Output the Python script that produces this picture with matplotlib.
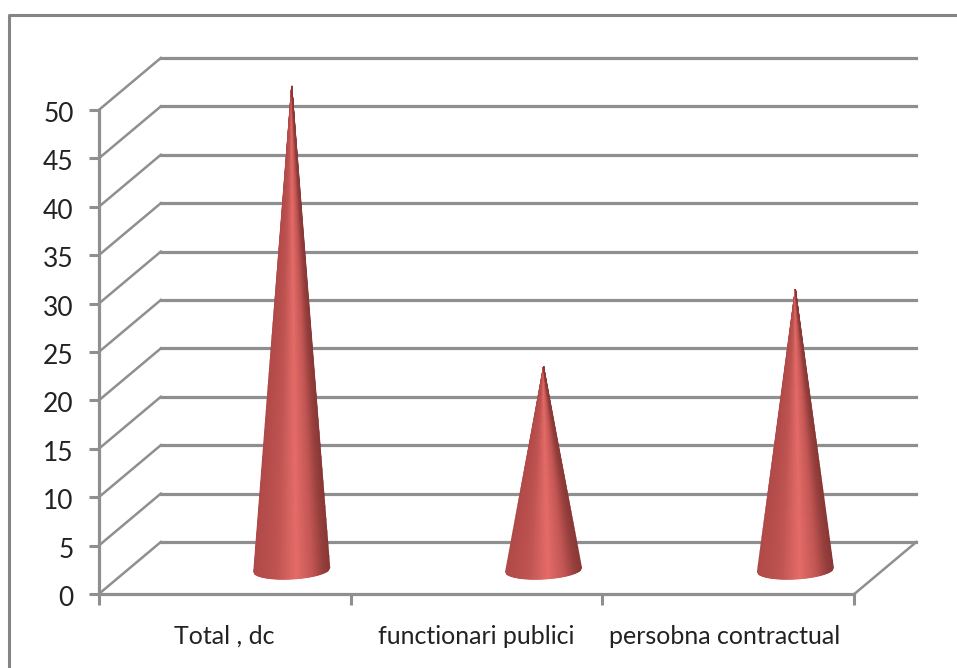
import numpy as np
import matplotlib
matplotlib.use("Agg")
import matplotlib.pyplot as plt
from matplotlib.colors import LinearSegmentedColormap
from matplotlib.lines import Line2D
from matplotlib.transforms import Affine2D

categories = ["Total , dc", "functionari publici", "persobna contractual"]
values = [50, 21, 29]
y_ticks = [0, 5, 10, 15, 20, 25, 30, 35, 40, 45, 50]

W, H = 957, 668
GREY = "#8f8f8f"

plt.rcParams['font.family'] = ['Lato', 'DejaVu Sans']

fig = plt.figure(figsize=(W / 100, H / 100), dpi=100)
ax = fig.add_axes([98.8 / W, 1 - 594 / H, 755.5 / W, 484 / H])
ax.set_xlim(0.5, 3.5)
ax.set_ylim(0, 50)
ax.patch.set_alpha(0)

# outer frame, only left and top are inside the picture
fig.add_artist(Line2D([9 / W, 9 / W, 1], [0, 1 - 15 / H, 1 - 15 / H], color="#858585", lw=2.2))

# walls of the fake 3d box (pixels converted to data units)
px_x = 3 / 755.5
px_y = 50 / 484
depth_x = 62 * px_x
depth_y = 52 * px_y
for v in y_ticks:
    ax.plot([0.5, 0.5 + depth_x], [v, v + depth_y], color=GREY, lw=1.8, clip_on=False, zorder=1)
    ax.plot([0.5 + depth_x, 3.5 + depth_x], [v + depth_y, v + depth_y], color=GREY, lw=2.3, clip_on=False, zorder=1)
ax.plot([3.5, 3.5 + depth_x], [0, depth_y], color=GREY, lw=1.8, clip_on=False, zorder=1)

# cones
cone_cmap = LinearSegmentedColormap.from_list("cone", [
    (0.00, "#b04a48"), (0.30, "#bf5452"), (0.56, "#e56c68"), (0.78, "#c25654"), (0.92, "#96403d"), (1.00, "#8a3836"),
])
shift = ax.transData + Affine2D().translate(67, 24)
hw = 38 * px_x
u = np.linspace(-1, 1, 60)
t = np.linspace(0, 1, 40)
for i, val in enumerate(values):
    U, T = np.meshgrid(u, t)
    base = (-9 * np.sqrt(1 - U ** 2) + 2 * U) * px_y
    X = (i + 1) + hw * U * (1 - T)
    Y = base * (1 - T) + val * T
    ax.pcolormesh(X, Y, (U + 1) / 2, cmap=cone_cmap, vmin=0, vmax=1, shading='gouraud',
                  transform=shift, clip_on=False, zorder=3)

for side in ['top', 'right']:
    ax.spines[side].set_visible(False)
for side in ['left', 'bottom']:
    ax.spines[side].set_color(GREY)
    ax.spines[side].set_linewidth(2.3)
    ax.spines[side].set_zorder(2)

ax.set_yticks(y_ticks)
ax.set_xticks([1, 2, 3])
ax.set_xticklabels(categories)
ax.set_xticks([0.5, 1.5, 2.5, 3.5], minor=True)
ax.tick_params(axis='y', length=7, width=2.2, color=GREY, labelsize=19, labelcolor="#222222", pad=11)
ax.tick_params(axis='x', which='major', length=0, labelsize=18, labelcolor="#222222", pad=22)
ax.tick_params(axis='x', which='minor', length=8, width=2.2, color=GREY)

# small nudges to sit where the reference labels sit
for lab in ax.get_yticklabels():
    lab.set_transform(lab.get_transform() + Affine2D().translate(0, -2))
xlabs = ax.get_xticklabels()
xlabs[2].set_transform(xlabs[2].get_transform() + Affine2D().translate(-4, 0))

fig.savefig("out.png", dpi=100)
